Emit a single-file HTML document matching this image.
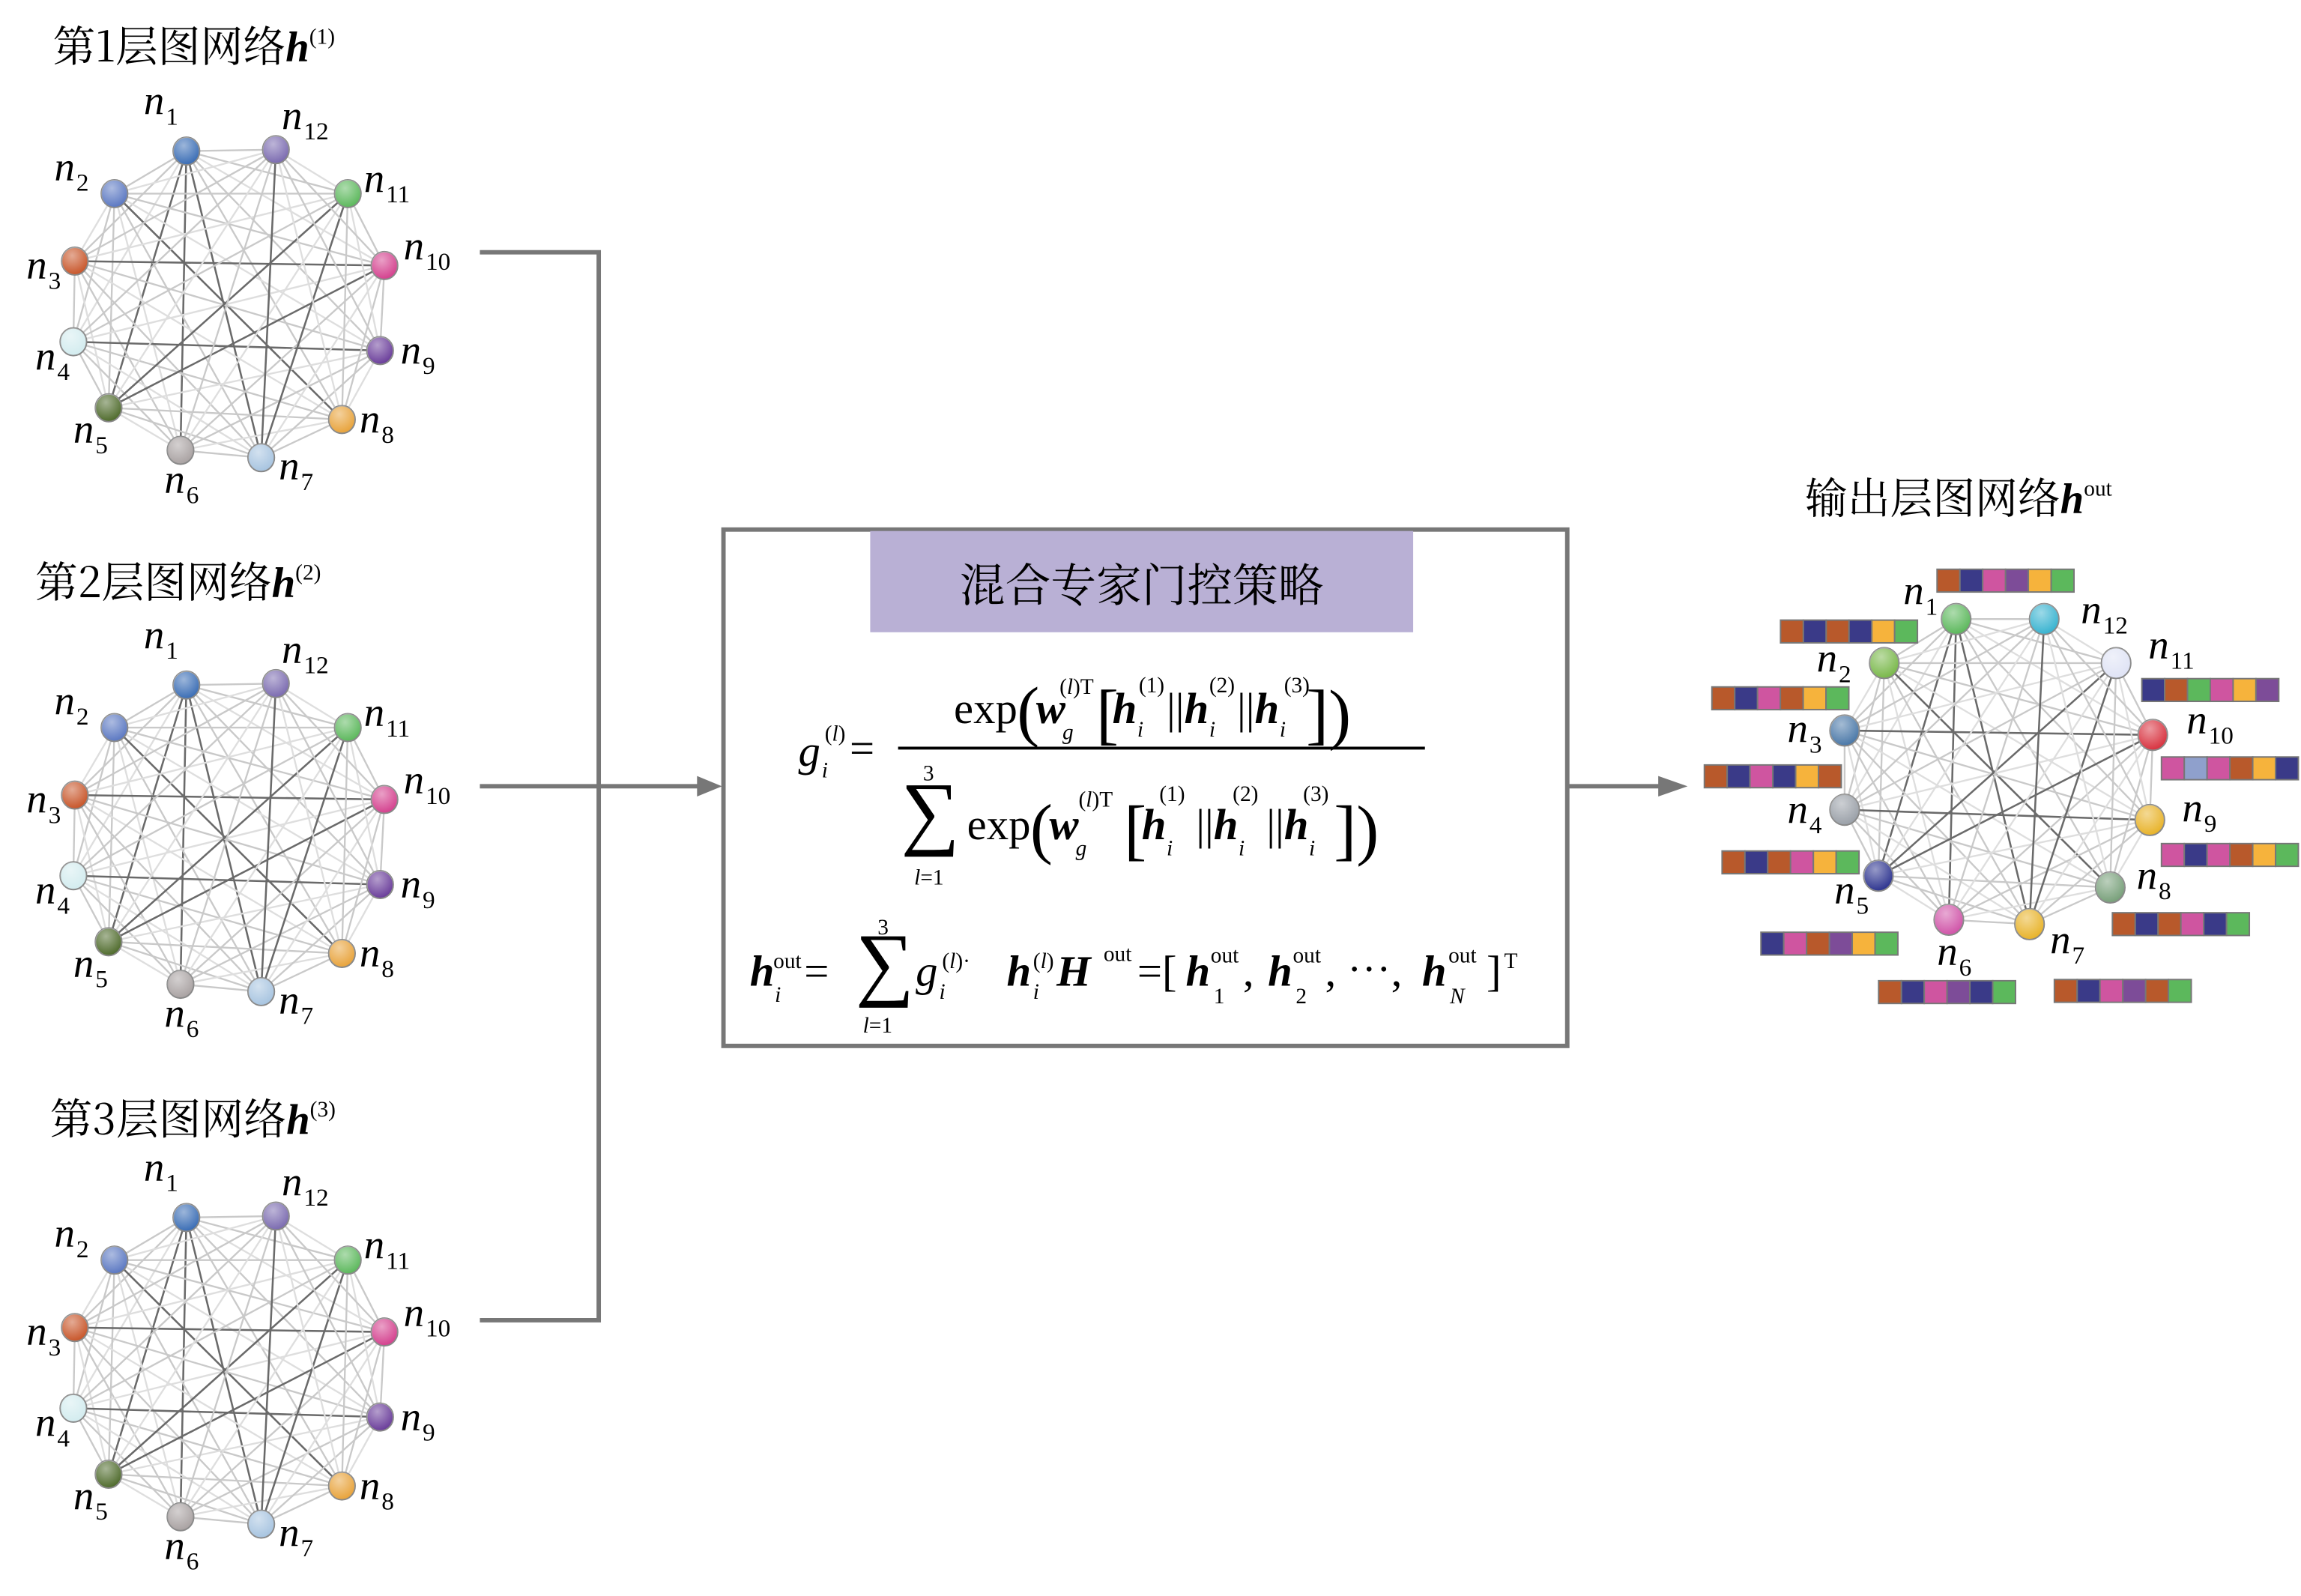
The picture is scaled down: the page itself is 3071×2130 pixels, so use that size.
<!DOCTYPE html>
<html><head><meta charset="utf-8">
<style>
html,body{margin:0;padding:0;background:#fff;}
svg{display:block;}
.m{font-family:"Liberation Serif","Noto Serif CJK SC",serif;}
.cn{font-family:"Noto Serif CJK SC","Liberation Serif",serif;}
</style></head>
<body>
<svg id="s" width="3071" height="2130" viewBox="0 0 1568 1088" preserveAspectRatio="none" xmlns="http://www.w3.org/2000/svg">
<defs>
<radialGradient id="sh" cx="40%" cy="30%" r="70%"><stop offset="0" stop-color="#fff" stop-opacity="0.5"/><stop offset="1" stop-color="#fff" stop-opacity="0"/></radialGradient>
</defs>
<g id="graphs"></g>

<text class="cn" x="36" y="42" font-size="29">第1层图网络<tspan class="m" font-weight="bold" font-style="italic">h</tspan><tspan class="m" font-size="15" dy="-12">(1)</tspan></text>
<text class="cn" x="24" y="407" font-size="29">第2层图网络<tspan class="m" font-weight="bold" font-style="italic">h</tspan><tspan class="m" font-size="15" dy="-12">(2)</tspan></text>
<text class="cn" x="34" y="773" font-size="29">第3层图网络<tspan class="m" font-weight="bold" font-style="italic">h</tspan><tspan class="m" font-size="15" dy="-12">(3)</tspan></text>
<text class="cn" x="1230" y="350" font-size="29">输出层图网络<tspan class="m" font-weight="bold" font-style="italic">h</tspan><tspan class="m" font-size="15" dy="-12">out</tspan></text>

<g stroke="#777" stroke-width="3" fill="none">
<path d="M327,172 H408 V900 H327"/>
<path d="M327,536 H478"/>
<path d="M1068,536 H1134"/>
<rect x="493" y="361" width="575" height="352"/>
</g>
<path d="M475,529 L492,536 L475,543 Z" fill="#777"/>
<path d="M1130,529 L1150,536 L1130,543 Z" fill="#777"/>
<rect x="593" y="362" width="370" height="69" fill="#b9b0d5"/>
<text class="cn" x="778" y="410" font-size="31" text-anchor="middle">混合专家门控策略</text>

<g class="m" font-size="30">
<text x="544" y="522" font-style="italic">g</text>
<text x="560" y="530" font-size="15" font-style="italic">i</text>
<text x="562" y="505" font-size="15">(<tspan font-style="italic">l</tspan>)</text>
<text x="579" y="520">=</text>
<line x1="612" y1="510" x2="971" y2="510" stroke="#000" stroke-width="2"/>
<text x="650" y="493">exp</text>
<text x="693" y="500" font-size="46">(</text>
<text x="706" y="493" font-weight="bold" font-style="italic">w</text>
<text x="724" y="504" font-size="15" font-style="italic">g</text>
<text x="722" y="473" font-size="15">(<tspan font-style="italic">l</tspan>)T</text>
<text x="747" y="502" font-size="46">[</text>
<text x="758" y="493" font-weight="bold" font-style="italic">h</text>
<text x="775" y="502" font-size="15" font-style="italic">i</text>
<text x="776" y="472" font-size="15">(1)</text>
<text x="795" y="493">||</text>
<text x="807" y="493" font-weight="bold" font-style="italic">h</text>
<text x="824" y="502" font-size="15" font-style="italic">i</text>
<text x="824" y="472" font-size="15">(2)</text>
<text x="843" y="493">||</text>
<text x="855" y="493" font-weight="bold" font-style="italic">h</text>
<text x="872" y="502" font-size="15" font-style="italic">i</text>
<text x="875" y="472" font-size="15">(3)</text>
<text x="890" y="502" font-size="46">])</text>

<text x="614" y="572" font-size="56">∑</text>
<text x="629" y="532" font-size="15">3</text>
<text x="623" y="603" font-size="15"><tspan font-style="italic">l</tspan>=1</text>
<text x="659" y="572">exp</text>
<text x="702" y="580" font-size="46">(</text>
<text x="715" y="572" font-weight="bold" font-style="italic">w</text>
<text x="733" y="583" font-size="15" font-style="italic">g</text>
<text x="735" y="550" font-size="15">(<tspan font-style="italic">l</tspan>)T</text>
<text x="766" y="581" font-size="46">[</text>
<text x="778" y="572" font-weight="bold" font-style="italic">h</text>
<text x="795" y="583" font-size="15" font-style="italic">i</text>
<text x="790" y="546" font-size="15">(1)</text>
<text x="815" y="572">||</text>
<text x="827" y="572" font-weight="bold" font-style="italic">h</text>
<text x="844" y="583" font-size="15" font-style="italic">i</text>
<text x="840" y="546" font-size="15">(2)</text>
<text x="863" y="572">||</text>
<text x="875" y="572" font-weight="bold" font-style="italic">h</text>
<text x="892" y="583" font-size="15" font-style="italic">i</text>
<text x="888" y="546" font-size="15">(3)</text>
<text x="909" y="581" font-size="46">])</text>
</g>

<g class="m" font-size="30">
<text x="511" y="672" font-weight="bold" font-style="italic">h</text>
<text x="528" y="683" font-size="15" font-style="italic">i</text>
<text x="527" y="660" font-size="15">out</text>
<text x="548" y="672">=</text>
<text x="583" y="675" font-size="56">∑</text>
<text x="598" y="637" font-size="15">3</text>
<text x="588" y="704" font-size="15"><tspan font-style="italic">l</tspan>=1</text>
<text x="624" y="672" font-style="italic">g</text>
<text x="640" y="681" font-size="15" font-style="italic">i</text>
<text x="642" y="660" font-size="15">(<tspan font-style="italic">l</tspan>)·</text>
<text x="686" y="672" font-weight="bold" font-style="italic">h</text>
<text x="704" y="681" font-size="15" font-style="italic">i</text>
<text x="704" y="660" font-size="15">(<tspan font-style="italic">l</tspan>)</text>
<text x="720" y="672" font-weight="bold" font-style="italic">H</text>
<text x="752" y="655" font-size="15">out</text>
<text x="775" y="672">=[</text>
<text x="808" y="672" font-weight="bold" font-style="italic">h</text>
<text x="827" y="684" font-size="15">1</text>
<text x="825" y="656" font-size="15">out</text>
<text x="847" y="672">,</text>
<text x="864" y="672" font-weight="bold" font-style="italic">h</text>
<text x="883" y="684" font-size="15">2</text>
<text x="881" y="656" font-size="15">out</text>
<text x="903" y="672">, ⋯,</text>
<text x="969" y="672" font-weight="bold" font-style="italic">h</text>
<text x="988" y="684" font-size="15" font-style="italic">N</text>
<text x="987" y="656" font-size="15">out</text>
<text x="1013" y="672">]</text>
<text x="1025" y="660" font-size="15">T</text>
</g>
</svg>
<script>
const NS="http://www.w3.org/2000/svg";
const G=document.getElementById('graphs');
function el(t,a,p){const e=document.createElementNS(NS,t);for(const k in a)e.setAttribute(k,a[k]);(p||G).appendChild(e);return e;}
const base=[[127,103],[78,132],[51,178],[50,233],[74,278],[123,307],[178,312],[233,286],[259,239],[262,181],[237,132],[188,102]];
const cols=['#3a6db5','#5b78c2','#c8562a','#d3ecef','#4f6b2c','#a9a2a2','#a7c4e0','#e8a33b','#6a3d9a','#d4418e','#5cb85c','#7b6bb0'];
const lab=[[98,78],[37,123],[18,190],[24,252],[50,302],[112,336],[190,327],[245,295],[273,248],[275,177],[248,131],[192,88]];
const dark=[[0,4],[0,6],[11,6],[10,4],[9,4],[3,8],[1,7],[10,6],[0,5],[2,9]];
function isDark(i,j){return dark.some(d=>(d[0]==i&&d[1]==j)||(d[0]==j&&d[1]==i));}
function graph(pts,colors,labels,r){
 for(let i=0;i<12;i++)for(let j=i+1;j<12;j++){
  const d=isDark(i,j);
  el('line',{x1:pts[i][0],y1:pts[i][1],x2:pts[j][0],y2:pts[j][1],stroke:d?'#6a6a6a':((i+j)%3?'#c9c9c9':'#dedede'),'stroke-width':d?1.3:1.2});
 }
 for(let i=0;i<12;i++){
  el('ellipse',{cx:pts[i][0],cy:pts[i][1],rx:r,ry:r*1.05,fill:colors[i],stroke:'#888','stroke-width':1});
  el('ellipse',{cx:pts[i][0],cy:pts[i][1],rx:r,ry:r*1.05,fill:'url(#sh)'});
  const t=el('text',{x:labels[i][0],y:labels[i][1],'font-family':'Liberation Serif, serif','font-size':28,'font-style':'italic'});
  t.textContent='n';
  const s=el('tspan',{'font-size':17,'font-style':'normal',dy:7,dx:1},t);s.textContent=String(i+1);
 }
}
[0,364,727].forEach(dy=>{
 graph(base.map(p=>[p[0],p[1]+dy]),cols,lab.map(p=>[p[0],p[1]+dy]),9);
});
const op=[[1333,422],[1284,452],[1257,498],[1257,552],[1280,597],[1328,627],[1383,630],[1438,605],[1465,559],[1467,501],[1442,452],[1393,422]];
const oc=['#5cb85c','#79b84a','#4a78a8','#9aa0a8','#2e3590','#d054a8','#e8b32a','#78a07a','#e8b32a','#d8323f','#dfe3f5','#38b3d0'];
const ol=[[1297,412],[1238,458],[1218,506],[1218,561],[1250,616],[1320,658],[1397,650],[1456,606],[1487,560],[1490,500],[1464,449],[1418,425]];
graph(op,oc,ol,10);
const C={b:'#b8592b',n:'#3a3a88',p:'#cf55a0',u:'#7d4c98',o:'#f6b33c',g:'#5cb85c',l:'#8fa0cc'};
const bars=[[607,50,'bnpuog'],[192,222,'bnbnog'],[10,448,'bnpbog'],[-10,712,'bnpnob'],[37,1003,'bnbpog'],[140,1278,'npbuog'],[452,1442,'bnpung'],[918,1438,'bnpubg'],[1072,1212,'bnbpng'],[1202,978,'pnpbog'],[1202,685,'plpbon'],[1150,420,'nbgpou']];
bars.forEach(b=>{
 const x=1164+b[0]*0.257, y=378+b[1]*0.2015, w=15.55, h=15.5;
 for(let k=0;k<6;k++) el('rect',{x:x+k*w,y:y,width:w,height:h,fill:C[b[2][k]],stroke:'#777','stroke-width':1});
});
</script>
</body></html>
